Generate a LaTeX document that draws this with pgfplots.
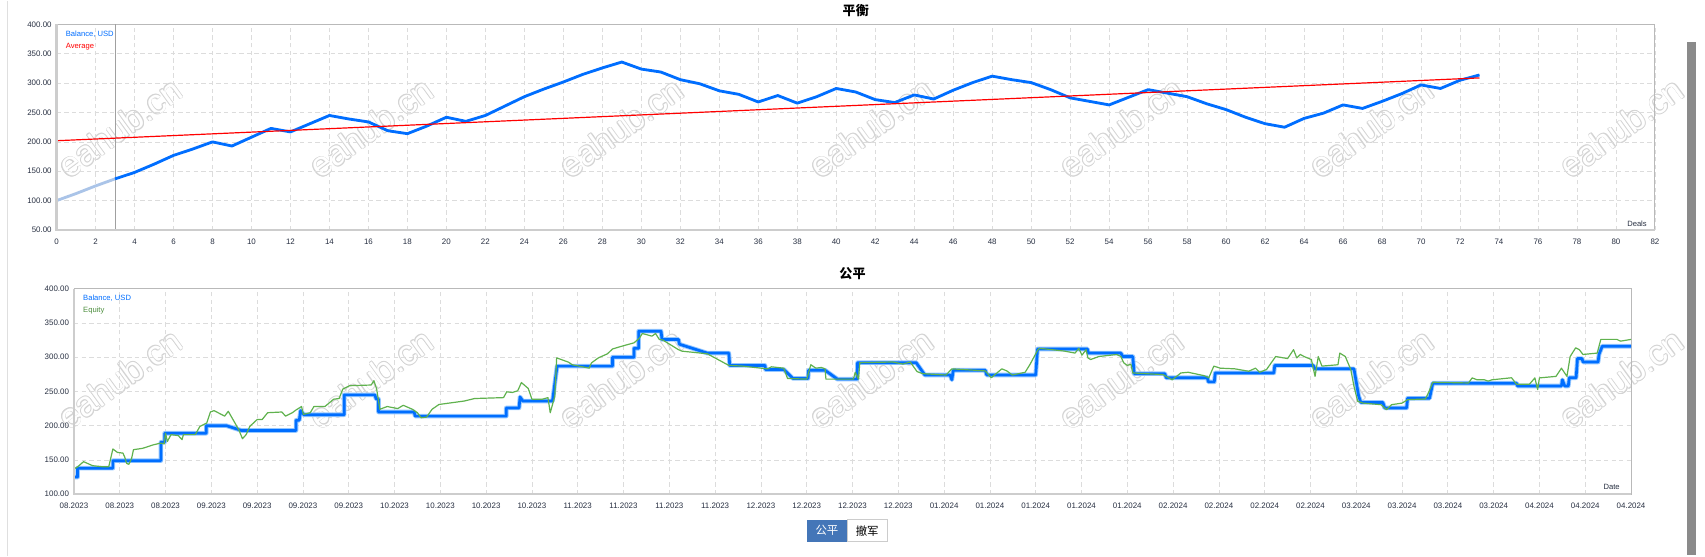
\documentclass[border=0pt]{standalone}
\usepackage{pgfplots}
\pgfplotsset{compat=1.18}
\usepackage{fontspec}
\setmainfont{Liberation Sans}
\newfontfamily\cjk{Noto Sans CJK SC}
\definecolor{balblue}{RGB}{0,110,255}
\definecolor{balpale}{RGB}{170,196,232}
\definecolor{avgred}{RGB}{255,0,0}
\definecolor{eqgreen}{RGB}{96,178,78}
\definecolor{halo}{RGB}{150,200,255}
\definecolor{ticktext}{RGB}{40,48,66}
\definecolor{gridc}{RGB}{220,220,220}
\definecolor{framec}{RGB}{185,185,185}
\definecolor{framethick}{RGB}{205,205,205}
\definecolor{vline}{RGB}{160,160,160}
\definecolor{btnblue}{RGB}{68,118,184}
\definecolor{wmc}{RGB}{212,212,212}
\definecolor{scrollc}{RGB}{138,138,138}
\newcommand\tickfont{\fontsize{7.3}{8}\selectfont}
\newcommand\wmfont{\fontsize{32}{34}\selectfont}
\pgfplotsset{
  chartstyle/.style={
    scale only axis,
    anchor=south west,
    axis line style={draw=framec, line width=0.8pt},
    grid=major,
    major grid style={draw=gridc, dash pattern=on 4pt off 3pt, line width=0.7pt},
    major tick length=0pt,
    tick label style={font=\tickfont, text=ticktext},
    /pgf/number format/assume math mode=true,
    yticklabel style={/pgf/number format/fixed, /pgf/number format/fixed zerofill, /pgf/number format/precision=2, /pgf/number format/1000 sep={}},
  }
}
\newcommand\wm[2]{%
  \foreach \dx/\dy in {0.7/0,-0.7/0,0/0.7,0/-0.7,0.5/0.5,-0.5/0.5,0.5/-0.5,-0.5/-0.5}{%
    \node[rotate=36, text=wmc, font=\wmfont, xshift=\dx pt, yshift=\dy pt] at (#1,#2) {eahub.cn};}
  \node[rotate=36, text=white, font=\wmfont] at (#1,#2) {eahub.cn};}
\begin{document}
\begin{tikzpicture}[x=1pt,y=1pt]
\fill[white] (0,0) rectangle (1568,511);
\draw[gray!25, line width=1pt] (7,0) -- (7,511);
\fill[scrollc] (1551,1) rectangle (1560,473);
% watermarks
\foreach \wx in {110,341,571,801,1031,1261,1491}{\wm{\wx}{394}\wm{\wx}{163}}
% titles
\node[font=\cjk\bfseries\fontsize{12}{14}\selectfont] at (787,501.4) {平衡};
\node[font=\cjk\bfseries\fontsize{12}{14}\selectfont] at (784,260) {公平};
% ---------------- top chart ----------------
\begin{axis}[chartstyle, name=top, at={(52pt,300pt)}, width=1470pt, height=189pt,
  xmin=0, xmax=82, ymin=50, ymax=400,
  xtick={0,2,...,82}, ytick={50,100,...,400},
  xticklabel style={yshift=-5pt}, yticklabel style={xshift=-1pt}]
\draw[color=vline, line width=0.8pt] (axis cs:3,50) -- (axis cs:3,400);
\addplot[balpale, line width=2.6pt, line join=round] coordinates {(0,100)(1,112)(2,125)(3,137)};
\addplot[balblue, line width=2.6pt, line join=round] coordinates {
(3,137)(4,148)(5,162)(6,177)(7,188)(8,200)(9,193)(10,208)(11,223)(12,217)
(13,231)(14,245)(15,239)(16,234)(17,219)(18,214)(19,227)(20,242)(21,235)(22,245)
(23,261)(24,277)(25,290)(26,302)(27,315)(28,326)(29,336)(30,324)(31,319)(32,306)
(33,299)(34,287)(35,281)(36,268)(37,279)(38,266)(39,277)(40,291)(41,285)(42,272)
(43,267)(44,280)(45,273)(46,288)(47,301)(48,312)(49,306)(50,301)(51,289)(52,275)
(53,269)(54,263)(55,276)(56,289)(57,283)(58,277)(59,265)(60,255)(61,242)(62,231)
(63,225)(64,240)(65,249)(66,263)(67,257)(68,269)(69,282)(70,297)(71,291)(72,305)(73,314)};
\addplot[avgred, line width=1.1pt] coordinates {(0,202)(73,309)};
\node[anchor=west, text=balblue, font=\fontsize{7}{8}\selectfont, xshift=5pt, yshift=-9pt] at (axis description cs:0,1) {Balance, USD};
\node[anchor=west, text=avgred, font=\fontsize{7}{8}\selectfont, xshift=5pt, yshift=-20pt] at (axis description cs:0,1) {Average};
\node[anchor=east, text=ticktext, font=\fontsize{7}{8}\selectfont, xshift=-4pt, yshift=6pt] at (axis description cs:1,0) {Deals};
\end{axis}
\draw[framethick, line width=2pt] (top.north west) -- (top.south west) -- (top.south east);
% ---------------- bottom chart ----------------
\begin{axis}[chartstyle, name=bot, at={(68pt,57pt)}, width=1432pt, height=189pt,
  xmin=0, xmax=34, ymin=100, ymax=400,
  xtick={0,1,...,34}, ytick={100,150,...,400},
  xticklabels={08.2023,08.2023,08.2023,09.2023,09.2023,09.2023,09.2023,10.2023,10.2023,10.2023,10.2023,11.2023,11.2023,11.2023,11.2023,12.2023,12.2023,12.2023,12.2023,01.2024,01.2024,01.2024,01.2024,01.2024,02.2024,02.2024,02.2024,02.2024,03.2024,03.2024,03.2024,03.2024,04.2024,04.2024,04.2024},
  xticklabel style={yshift=-4.5pt}, yticklabel style={xshift=-1pt}]
\pgfplotstableread{
t v
0 125
0.08 125
0.08 138
0.85 138
0.85 149
1.9 149
1.9 176
1.98 176
1.98 189
2.89 189
2.89 200
3.33 200
3.66 193
4.85 193
4.85 208
4.92 208
4.95 222
5.02 216
5.9 216
5.9 245
6.57 245
6.6 239
6.65 239
6.65 220
7.43 220
7.45 214
9.44 214
9.44 226
9.72 226
9.74 242
9.8 236
10.45 236
10.5 262
10.55 287
11.76 287
11.76 300
12.23 300
12.23 313
12.33 313
12.33 338
12.82 338
12.84 326
13.2 326
13.22 319
13.83 306
14.3 306
14.32 288
15.09 288
15.1 282
15.5 282
15.7 269
16.03 269
16.04 281
16.4 281
16.67 268
17.1 268
17.11 292
18.39 292
18.58 274
19.13 274
19.17 267
19.2 281
19.9 281
19.93 274
21.0 274
21.04 312
22.13 312
22.15 306
22.86 306
22.9 301
23.12 301
23.15 276
23.82 276
23.85 270
24.75 270
24.77 264
24.9 264
24.92 277
26.2 277
26.22 288
27.06 288
27.1 283
27.95 283
28.05 244
28.1 234
28.58 234
28.62 226
29.1 226
29.12 240
29.6 240
29.67 262
31.5 262
31.52 258
32.48 258
32.5 267
32.55 258
32.63 258
32.65 270
32.8 270
32.83 298
32.93 298
32.95 293
33.28 293
33.3 304
33.37 316
34 316
}\baltable
\pgfplotstableread{
t v
0 137
0.08 140
0.21 147.5
0.41 141.6
0.64 140
0.76 140
0.85 166
0.95 161
1.07 160
1.11 154
1.15 145
1.2 143.6
1.26 152.5
1.3 165
1.5 167
1.73 172
1.89 174.6
1.97 173.6
2.0 189
2.04 177
2.12 187
2.28 185.5
2.36 179.6
2.39 187
2.65 187
2.75 199
2.9 204
2.98 220
3.06 222
3.29 214
3.37 221
3.49 207
3.6 194
3.68 181
3.76 187
3.84 199
4.0 209
4.11 209
4.23 219
4.54 220
4.62 214
4.77 219
4.85 223
4.97 228
5.01 216.5
5.16 219
5.24 228
5.48 228
5.67 238.7
5.79 239.7
5.87 253.4
6.02 258.4
6.49 259.4
6.55 265.8
6.61 253.4
6.68 224
6.84 228
7.07 225
7.19 229.8
7.39 224
7.5 219
7.58 211.6
7.7 212.6
7.82 224
7.97 231
8.52 236
8.75 239.7
9.38 241
9.45 249.5
9.57 248.5
9.69 251
9.77 263
9.92 254.4
10.0 238.7
10.23 238.7
10.35 241
10.4 219
10.5 243
10.54 299
10.6 297.6
10.8 292.7
10.88 289
11.25 284
11.3 291.7
11.45 299
11.65 305
11.76 312
11.96 316
12.23 321
12.35 328
12.41 334.6
12.5 333
12.62 330.7
12.7 334.6
12.78 326
12.86 325
13.2 311
13.28 308.8
13.83 305
14.3 288
14.6 287
15.0 284
15.15 283
15.23 286
15.5 284
15.58 269
16.0 268
16.09 289
16.2 284
16.32 285
16.4 283
16.42 268
17.02 268
17.06 278
17.13 268
17.16 292
17.88 293
18.1 290
18.26 293
18.41 279
18.53 276
19.04 274
19.17 283
19.9 280
20.03 270
20.26 283
20.37 280
20.49 274
20.77 278
20.88 290
21.04 310
21.08 313
21.62 309
21.86 306
21.94 313
22.01 303
22.1 311
22.14 299
22.2 296.6
22.38 301
22.77 304
22.86 301
22.92 292
23.0 288
23.08 289.7
23.12 277
23.78 274.6
23.98 267
24.17 277
24.33 278
24.68 273
24.78 270
24.89 287
25.03 284
25.35 283
25.65 279.5
25.8 284
25.89 278
26.04 282
26.24 301
26.5 298
26.63 311
26.7 299
26.78 304
26.86 301
27.02 296.6
27.1 272
27.17 301
27.25 287
27.6 289
27.64 306
27.76 301
27.88 282
27.95 257.6
28.03 235.6
28.15 233
28.54 230.7
28.66 223.4
28.77 230.7
29.0 233
29.12 238
29.51 239
29.59 250.2
29.67 263.4
30.45 262.4
30.53 269.8
30.64 267
30.8 267
30.88 265
30.96 267
31.39 270
31.5 260.5
31.78 260.5
31.9 269.8
31.96 252.7
32.0 269.8
32.36 272
32.48 284
32.6 272
32.67 301
32.79 313.7
32.87 311
32.95 304
33.26 306
33.34 326
33.69 326
33.77 323.4
34 326
}\eqtable
\addplot[halo, line width=4.2pt, line join=round] table[x=t, y=v] {\baltable};
\addplot[balblue, line width=2.5pt, line join=round] table[x=t, y=v] {\baltable};
\addplot[eqgreen, line width=1.1pt, line join=round] table[x=t, y=v] {\eqtable};
\node[anchor=west, text=balblue, font=\fontsize{7}{8}\selectfont, xshift=5pt, yshift=-9pt] at (axis description cs:0,1) {Balance, USD};
\node[anchor=west, text=eqgreen!80!black, font=\fontsize{7}{8}\selectfont, xshift=5pt, yshift=-20pt] at (axis description cs:0,1) {Equity};
\node[anchor=east, text=ticktext, font=\fontsize{7}{8}\selectfont, xshift=-7pt, yshift=6.5pt] at (axis description cs:1,0) {Date};
\end{axis}
\draw[framethick, line width=2pt] (bot.north west) -- (bot.south west) -- (bot.south east);
% buttons
\fill[btnblue] (742,13.5) rectangle (779,33.5);
\node[text=white, font=\cjk\fontsize{10.5}{12}\selectfont] at (760.5,23.5) {公平};
\draw[gray!40, fill=white, line width=0.8pt] (779,13.5) rectangle (816,33.5);
\node[text=black, font=\cjk\fontsize{10.5}{12}\selectfont] at (797.5,23.5) {撤军};
\end{tikzpicture}
\end{document}
